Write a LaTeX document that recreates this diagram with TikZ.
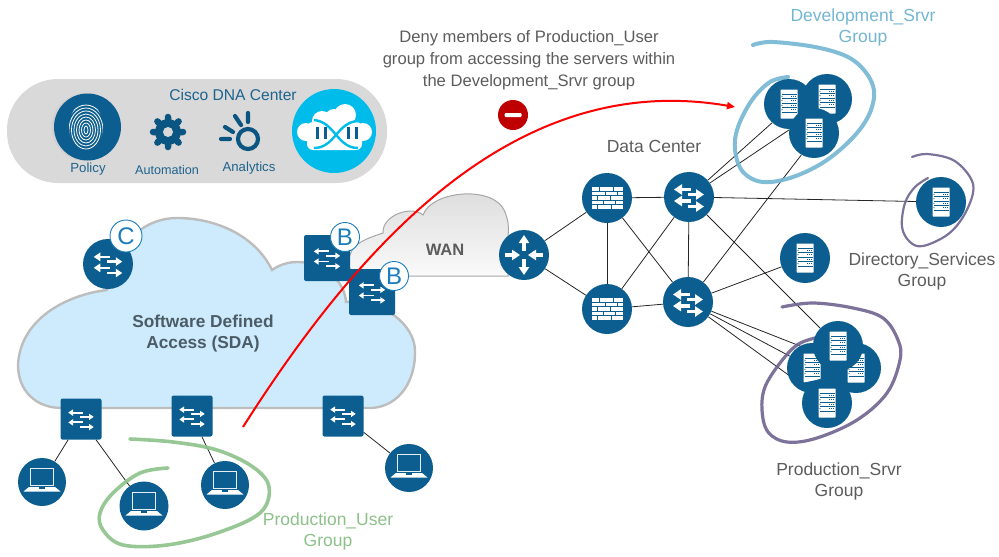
\documentclass[tikz,border=0pt]{standalone}
\usepackage{xcolor}
\usepackage{fontspec}
\setmainfont{Liberation Sans}
\usetikzlibrary{arrows.meta}
\usetikzlibrary{backgrounds}
\definecolor{ciscoblue}{HTML}{0B5E8F}
\definecolor{dnacyan}{HTML}{00BCEB}
\definecolor{panelgray}{HTML}{D9D9D9}
\definecolor{cloudblue}{HTML}{CDEBFD}
\definecolor{cloudedge}{HTML}{BDBDBD}
\definecolor{labelgray}{HTML}{5C5C5C}
\definecolor{badgeblue}{HTML}{1B7DBB}
\definecolor{devblue}{HTML}{73B6D2}
\definecolor{usergreen}{HTML}{8CC18A}
\definecolor{srvpurple}{HTML}{6E638F}
\tikzset{
  swcircle/.style={circle,fill=ciscoblue,minimum size=50pt,inner sep=0pt},
  swsquare/.style={rectangle,rounded corners=2pt,fill=ciscoblue,minimum size=46pt,inner sep=0pt},
  edgesquare/.style={swsquare,minimum size=41pt},
  badge/.style={circle,fill=white,draw=badgeblue,line width=0.9pt,inner sep=0pt,text=badgeblue,font=\fontsize{24}{24}\selectfont},
  link/.style={draw=black!85,line width=0.8pt},
  scribble/.style={line width=3.6pt,line cap=round,line join=round,opacity=0.9},
  caption/.style={text=labelgray,align=center,font=\fontsize{17.5}{21}\selectfont},
  paneltext/.style={text=ciscoblue!85!gray,font=\fontsize{13.2}{14}\selectfont},
  whitearrow/.style={draw=white,-{Triangle[length=0pt 2.5,width=0pt 3.2]}},
  swarrows/.pic={
    \draw[whitearrow] (2,-7.5) -- (-15,-7.5);
    \draw[whitearrow] (-1,-2.5) -- (15,-2.5);
    \draw[whitearrow] (2,4) -- (-15,4);
    \draw[whitearrow] (-1,9.5) -- (15,9.5);
  },
  routerarrows/.pic={
    \draw[whitearrow] (0,-4) -- (0,-20);
    \draw[whitearrow] (0,4) -- (0,20);
    \draw[whitearrow] (-19,0) -- (-4,0);
    \draw[whitearrow] (19,0) -- (4,0);
  },
  serverglyph/.pic={
    \fill[white,rounded corners=0.5pt] (-8.5,-14.5) rectangle (8.5,14.5);
    \draw[ciscoblue,line width=0.5pt] (-7.5,-10) -- (7.5,-10) (-7.5,-5.5) -- (7.5,-5.5) (-7.5,-1) -- (7.5,-1) (-7.5,3.5) -- (7.5,3.5) (-7.5,8) -- (7.5,8);
    \draw[ciscoblue,line width=1pt,dash pattern=on 1.2pt off 0.8pt] (2,-7.7) -- (7.5,-7.7) (2,-3.2) -- (7.5,-3.2) (2,1.3) -- (7.5,1.3) (2,5.8) -- (7.5,5.8);
    \fill[ciscoblue] (-7,-7.7) circle (0.6) (-7,-3.2) circle (0.6) (-7,1.3) circle (0.6) (-7,5.8) circle (0.6);
  },
  wallglyph/.pic={
    \fill[white] (-15.5,-11) rectangle (15.5,11);
    \draw[ciscoblue,line width=1pt] (-16,-6.6) -- (16,-6.6) (-16,-2.2) -- (16,-2.2) (-16,2.2) -- (16,2.2) (-16,6.6) -- (16,6.6);
    \draw[ciscoblue,line width=1pt] (-8,-11) -- (-8,-6.6) (6,-11) -- (6,-6.6) (-2,-6.6) -- (-2,-2.2) (10,-6.6) -- (10,-2.2) (-10,-2.2) -- (-10,2.2) (3,-2.2) -- (3,2.2) (-4,2.2) -- (-4,6.6) (8,2.2) -- (8,6.6) (-10,6.6) -- (-10,11) (4,6.6) -- (4,11);
  },
  laptopglyph/.pic={
    \draw[white!90!ciscoblue,line width=1pt] (-11.5,-13.5) rectangle (11.5,3.5);
    \fill[white] (-13,5) -- (13,5) -- (18.5,9.5) -- (-18.5,9.5) -- cycle;
    \fill[ciscoblue] (-3,5) rectangle (3,6.5);
  }
}
\begin{document}
\begin{tikzpicture}[x=1pt,y=-1pt]
\useasboundingbox (0,0) rectangle (999,557);

\fill[panelgray,rounded corners=51pt] (7,79) rectangle (387,183);
\fill[black!18] (85.5,127) circle (34);
\node[circle,fill=ciscoblue,minimum size=67pt,inner sep=0pt] (policy) at (87.5,127) {};
\begin{scope}
\clip (86,127) ellipse (17 and 24);
\draw[white,line width=0.8pt] (86,130) ellipse (2 and 4) (86,130) ellipse (4.5 and 7) (86,130) ellipse (7 and 10) (86,130) ellipse (9.5 and 13) (86,130) ellipse (12 and 16) (86,130) ellipse (14.5 and 19) (86,130) ellipse (17 and 22) (86,130) ellipse (19.5 and 25);
\end{scope}
\node[paneltext] (policytext) at (88,169) {Policy};
\fill[ciscoblue!90!black] (168,132) circle (13);
\draw[ciscoblue!90!black,line width=6.5pt,line cap=round] (168,117) -- (168,147) (153,132) -- (183,132) (157.4,121.4) -- (178.6,142.6) (157.4,142.6) -- (178.6,121.4);
\fill[panelgray] (168,132) circle (5);
\node[paneltext,font=\fontsize{12.6}{14}\selectfont] (automationtext) at (167,170) {Automation};
\draw[ciscoblue!90!black,line width=4.2pt] (248,139) circle (10);
\draw[ciscoblue!90!black,line width=4.2pt,line cap=round] (248,113) -- (248,122) (235,116) -- (241,125) (225,127) -- (233,132) (221,139) -- (230,139);
\node[paneltext] (analyticstext) at (249,168) {Analytics};
\node[circle,fill=dnacyan,minimum size=84pt,inner sep=0pt] (dnacenter) at (334,131) {};
\fill[white,rounded corners=6pt] (307,122) rectangle (362,150);
\fill[white] (306,132) circle (9) (363,132) circle (9) (322,121) circle (10) (345,115) circle (11) (334,118) circle (9);
\draw[dnacyan,line width=2.4pt] (314,120) .. controls (335,122) and (337,148) .. (358,148);
\draw[dnacyan,line width=2.4pt] (314,148) .. controls (335,148) and (337,122) .. (358,121);
\draw[ciscoblue,line width=3pt] (317,127) -- (317,139) (325,127) -- (325,139) (348,127) -- (348,139) (356,127) -- (356,139);
\node[text=ciscoblue!85!gray,font=\fontsize{15.6}{15.6}\selectfont] (dnatitle) at (233,95) {Cisco DNA Center};

\draw[cloudedge,fill=cloudblue,line width=2.4pt] (62,408) -- (372,408) .. controls (400,406) and (416,380) .. (415,350) .. controls (414,325) and (385,300) .. (346,302) .. controls (344,270) and (300,250) .. (272,270) .. controls (255,235) and (215,218) .. (177,218) .. controls (150,218) and (118,235) .. (107,290) .. controls (65,295) and (20,320) .. (18,365) .. controls (18,390) and (35,408) .. (62,408) -- cycle;
\draw[black!35,line width=1pt,top color=black!14,bottom color=black!2] (363,276) .. controls (350,276) and (345,262) .. (350,255) .. controls (353,243) and (368,238) .. (383,233) .. controls (382,215) and (412,205) .. (423,215) .. controls (432,190) and (495,185) .. (505,212) .. controls (510,225) and (508,230) .. (508,240) -- (508,276) -- cycle;
\node[text=labelgray,font=\bfseries\fontsize{16.5}{16.5}\selectfont] (wantext) at (445,250) {WAN};
\node[text=labelgray!80!ciscoblue,align=center,font=\bfseries\fontsize{17.3}{21}\selectfont] (sdatext) at (203,334) {Software Defined\\Access (SDA)};

\node[swcircle] (sdactrl) at (108,264) {};
\pic[scale=0.95,line width=2.6pt] at (sdactrl) {swarrows};
\node[badge,minimum size=32pt] (badgeC) at (126,236) {C};
\node[swsquare] (borderA) at (327,258) {};
\pic[scale=0.88,line width=1.9pt] at (borderA) {swarrows};
\node[badge,minimum size=29pt] (badgeA) at (345,237) {B};
\node[swsquare] (borderB) at (372,292) {};
\pic[scale=0.88,line width=1.9pt] at (borderB) {swarrows};
\node[badge,minimum size=29pt] (badgeB) at (394,276) {B};

\node[edgesquare] (edgeA) at (81,419) {};
\pic[scale=0.85,line width=1.9pt] at (edgeA) {swarrows};
\node[edgesquare] (edgeB) at (192,416) {};
\pic[scale=0.85,line width=1.9pt] at (edgeB) {swarrows};
\node[edgesquare] (edgeC) at (343,416) {};
\pic[scale=0.85,line width=1.9pt] at (edgeC) {swarrows};
\node[circle,fill=ciscoblue,minimum size=48pt,inner sep=0pt] (laptopA) at (42,482) {};
\pic at (laptopA) {laptopglyph};
\node[circle,fill=ciscoblue,minimum size=49pt,inner sep=0pt] (laptopB) at (144,506) {};
\pic at (laptopB) {laptopglyph};
\node[circle,fill=ciscoblue,minimum size=48pt,inner sep=0pt] (laptopC) at (225,485) {};
\pic at (laptopC) {laptopglyph};
\node[circle,fill=ciscoblue,minimum size=48pt,inner sep=0pt] (laptopD) at (409,468) {};
\pic at (laptopD) {laptopglyph};

\node[swcircle] (router) at (524,255) {};
\pic[line width=3.2pt] at (router) {routerarrows};
\node[swcircle] (wallA) at (607,198) {};
\pic at (wallA) {wallglyph};
\node[swcircle] (wallB) at (607,309) {};
\pic at (wallB) {wallglyph};
\node[swcircle] (dcswA) at (689,197) {};
\pic[line width=3.2pt] at (dcswA) {swarrows};
\node[swcircle] (dcswB) at (688,302) {};
\pic[line width=3.2pt] at (dcswB) {swarrows};

\node[swcircle] (devB) at (827,99) {};
\pic at (devB) {serverglyph};
\node[swcircle] (devA) at (789,104) {};
\pic at (devA) {serverglyph};
\node[swcircle] (devC) at (814,133) {};
\pic at (devC) {serverglyph};
\node[swcircle] (dirsrv) at (941,202) {};
\pic at (dirsrv) {serverglyph};
\node[swcircle] (midsrv) at (805,258) {};
\pic at (midsrv) {serverglyph};
\node[swcircle] (prodR) at (856,368) {};
\pic at (prodR) {serverglyph};
\fill[ciscoblue] (846.5,370) -- (862,353) -- (862,352) -- (846.5,352) -- cycle;
\node[swcircle] (prodL) at (812,368) {};
\pic at (prodL) {serverglyph};
\fill[ciscoblue] (815,353) -- (821,353) -- (821,364) -- cycle (803,382.8) -- (821,382.8) -- (821,379) -- cycle;
\node[swcircle] (prodT) at (838,346) {};
\pic at (prodT) {serverglyph};
\node[swcircle] (prodB) at (827,403) {};
\pic at (prodB) {serverglyph};

\begin{scope}[on background layer]
\draw[link] (edgeA) -- (laptopA);
\draw[link] (edgeA) -- (laptopB);
\draw[link] (edgeB) -- (laptopC);
\draw[link] (edgeC) -- (laptopD);
\draw[link] (router) -- (wallA);
\draw[link] (router) -- (wallB);
\draw[link] (wallA) -- (wallB);
\draw[link] (wallA) -- (dcswA);
\draw[link] (wallB) -- (dcswB);
\draw[link] (wallA) -- (dcswB);
\draw[link] (wallB) -- (dcswA);
\draw[link] (dcswA) -- (dcswB);
\draw[link] (dcswA) -- (devA.-132);
\draw[link] (dcswA) -- (devC.173);
\draw[link] (dcswB) -- (devC.-120);
\draw[link] (dcswA) -- (dirsrv);
\draw[link] (dcswA) -- (prodT);
\draw[link] (dcswB) -- (midsrv);
\draw[link] (dcswB) -- (prodR);
\draw[link] (dcswB) -- (prodL);
\draw[link] (dcswB) -- (prodB);
\draw[scribble,usergreen] plot[smooth,tension=0.6] coordinates {(130,439) (173,442) (217,450) (253,467) (269,487) (260,513) (217,533) (167,545) (123,545) (103,530) (100,513) (113,493) (140,473) (168,468)};
\draw[scribble,devblue,line width=4pt] plot[smooth,tension=0.6] coordinates {(753,45) (773,42) (820,48) (853,60) (872,83) (872,107) (857,133) (827,160) (793,177) (763,182) (743,172) (735,150) (738,127) (752,100) (770,82) (788,77)};
\draw[scribble,srvpurple,line width=2.2pt] plot[smooth,tension=0.6] coordinates {(912,157) (927,154) (953,160) (970,177) (973,193) (963,217) (947,235) (923,246) (910,242) (902,227) (905,203) (915,187) (928,178)};
\draw[scribble,srvpurple,line width=3.2pt] plot[smooth,tension=0.6] coordinates {(782,307) (813,303) (853,308) (883,318) (898,340) (900,360) (887,393) (857,420) (817,438) (787,442) (768,432) (762,410) (765,387) (780,363) (797,345) (815,338)};
\end{scope}

\coordinate (denystart) at (243,427);
\coordinate (denyend) at (735,107);
\draw[red,line width=2pt,-{Triangle[length=8pt,width=7pt]}] (denystart) .. controls (365,235) and (520,70) .. (denyend);
\node[circle,fill=red!75!black,minimum size=30pt,inner sep=0pt] (denyicon) at (513,115) {};
\fill[white,rounded corners=1pt] (504.5,113) rectangle (521.5,117);

\node[caption,font=\fontsize{16.6}{22}\selectfont] (denytext) at (529,60) {Deny members of Production\_User\\group from accessing the servers within\\the Development\_Srvr group};
\node[caption] (dctext) at (654,146) {Data Center};
\node[caption,text=devblue] (devtext) at (863,27.5) {Development\_Srvr\\Group};
\node[caption] (dirtext) at (922,271.5) {Directory\_Services\\Group};
\node[caption] (prodtext) at (839,481) {Production\_Srvr\\Group};
\node[caption,text=usergreen] (usertext) at (328,531) {Production\_User\\Group};
\end{tikzpicture}
\end{document}
